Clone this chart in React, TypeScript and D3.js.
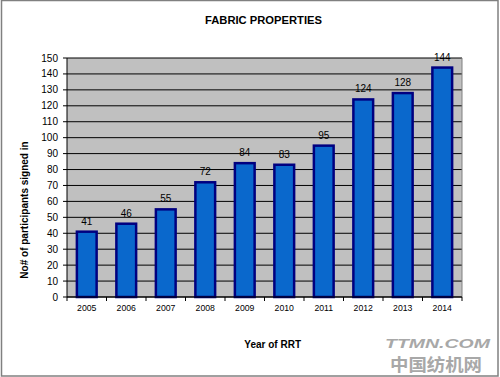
import React from "react";
import * as d3 from "d3";

const years = ["2005", "2006", "2007", "2008", "2009", "2010", "2011", "2012", "2013", "2014"];
const participants = [41, 46, 55, 72, 84, 83, 95, 124, 128, 144];
const yTicks = [0, 10, 20, 30, 40, 50, 60, 70, 80, 90, 100, 110, 120, 130, 140, 150];

const W = 500;
const H = 377;
const left = 67;
const right = 462;
const top = 58;
const bottom = 297;

export default function App() {
  const x = d3.scaleBand<string>().domain(years).range([left, right]).paddingInner(0.5).paddingOuter(0.25);
  const y = d3.scaleLinear().domain([0, 150]).range([bottom, top]);
  const step = x.step();
  const font = "Arial, 'Liberation Sans', sans-serif";

  return (
    <svg width={W} height={H} style={{ position: "absolute", left: 0, top: 0 }} fontFamily={font}>
      <rect x={0} y={0} width={W} height={H} fill="#ffffff" />
      <rect x={1.5} y={0.5} width={496.5} height={375.5} fill="none" stroke="#808080" strokeWidth={1.5} />
      <text x={263.5} y={23.5} textAnchor="middle" fontSize={11.2} fontWeight="bold" fill="#000">FABRIC PROPERTIES</text>

      <rect x={left} y={top} width={right - left} height={bottom - top} fill="#c0c0c0" />
      {yTicks.map((t) => (
        <line key={"g" + t} x1={left} x2={right} y1={y(t)} y2={y(t)} stroke="#000" strokeWidth={1} />
      ))}
      <line x1={right} x2={right} y1={top} y2={bottom} stroke="#808080" strokeWidth={1} />

      {years.map((yr, i) => {
        const v = participants[i];
        const bx = x(yr) as number;
        return (
          <g key={yr}>
            <rect x={bx} y={y(v)} width={x.bandwidth()} height={bottom - y(v)} fill="#0a68cc" stroke="#000080" strokeWidth={2.5} />
            <text x={bx + x.bandwidth() / 2} y={y(v) - 7} textAnchor="middle" fontSize={10} fill="#000">{v}</text>
          </g>
        );
      })}

      <line x1={left} x2={left} y1={top} y2={bottom} stroke="#000" strokeWidth={1} />
      <line x1={left} x2={right} y1={bottom} y2={bottom} stroke="#000" strokeWidth={1} />
      {yTicks.map((t) => (
        <g key={"t" + t}>
          <line x1={left - 4} x2={left} y1={y(t)} y2={y(t)} stroke="#000" />
          <text x={58} y={y(t) + 3.5} textAnchor="end" fontSize={10} fill="#000">{t}</text>
        </g>
      ))}
      {d3.range(years.length + 1).map((i) => (
        <line key={"xt" + i} x1={left + i * step} x2={left + i * step} y1={bottom} y2={bottom + 4} stroke="#000" />
      ))}
      {years.map((yr) => (
        <text key={"xl" + yr} x={(x(yr) as number) + x.bandwidth() / 2} y={311} textAnchor="middle" fontSize={8.7} fill="#000">{yr}</text>
      ))}

      <text x={272.7} y={348} textAnchor="middle" fontSize={10} fontWeight="bold" fill="#000">Year of RRT</text>
      <text transform="translate(28,210) rotate(-90)" textAnchor="middle" fontSize={10} fontWeight="bold" fill="#000">No# of participants signed in</text>

      <text x={385} y={348} fontSize={13} fontWeight="bold" fontStyle="italic" fill="#a8a8a8" textLength={105} lengthAdjust="spacingAndGlyphs">TTMN.COM</text>
      <text x={390} y={371} fontSize={17} fontWeight="bold" fill="#a8a8a8" textLength={92} lengthAdjust="spacingAndGlyphs" fontFamily="'Noto Sans CJK SC', sans-serif">中国纺机网</text>
    </svg>
  );
}
